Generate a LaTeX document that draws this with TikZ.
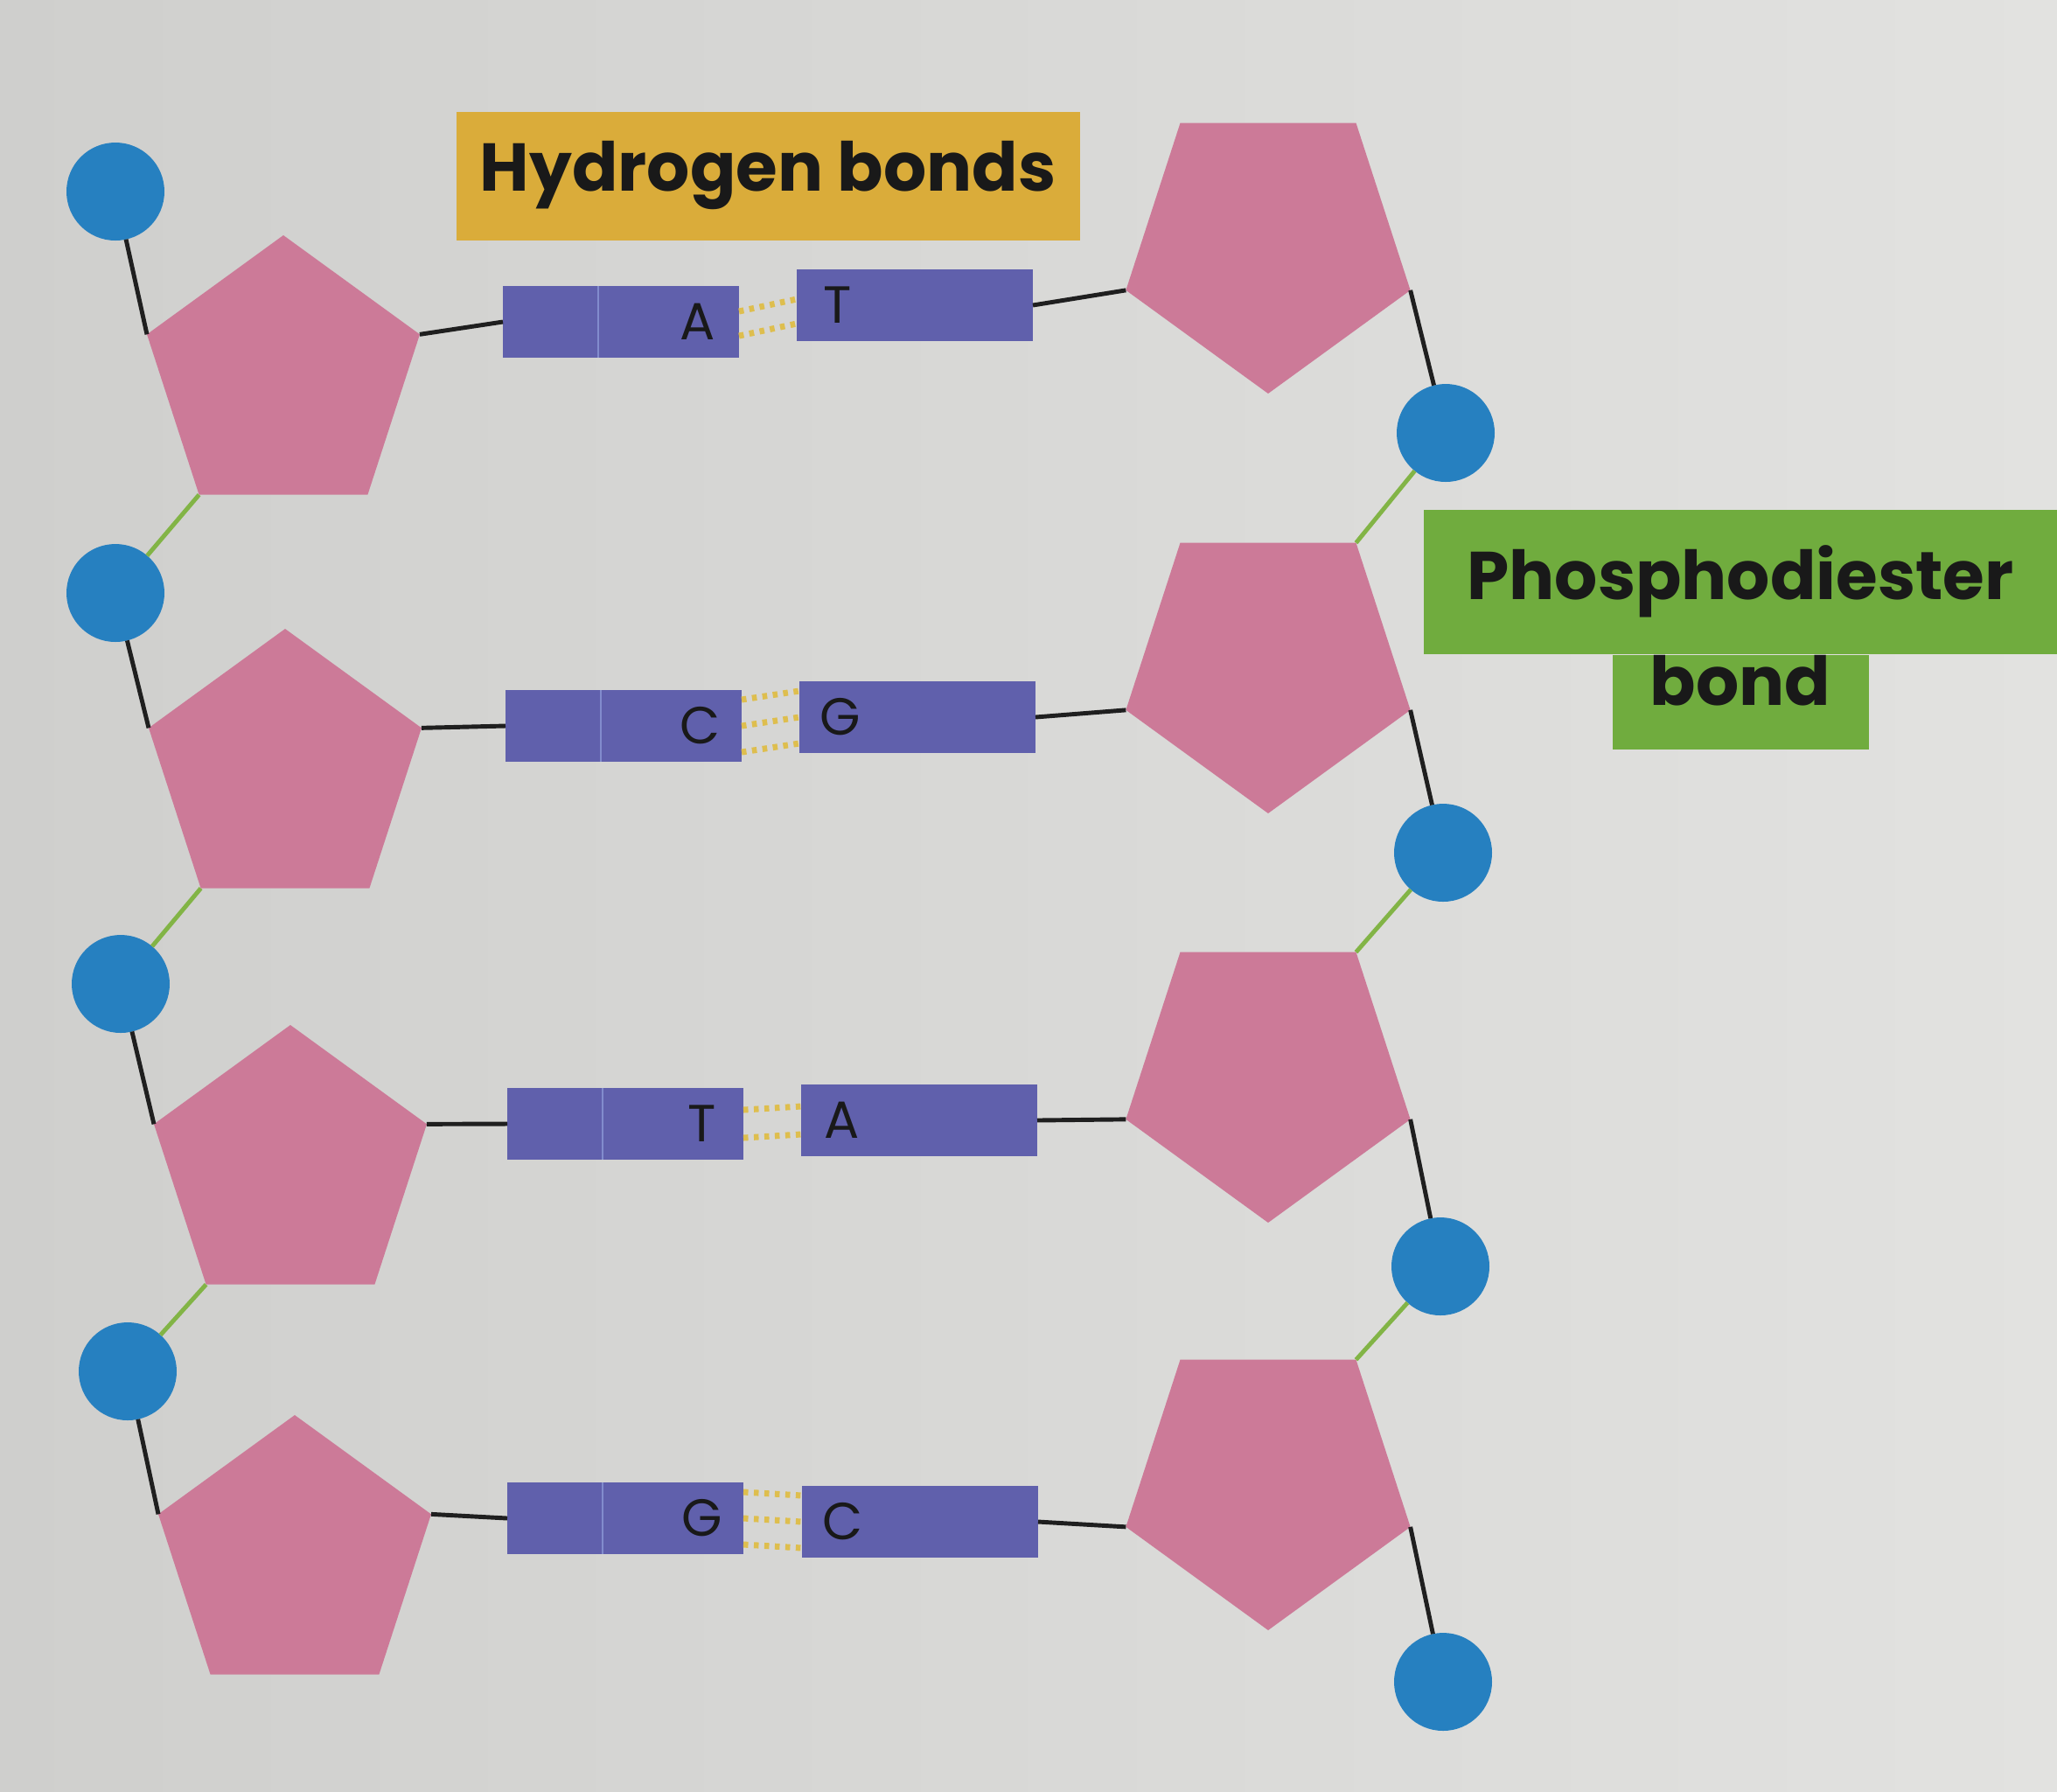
\documentclass[tikz,border=0pt]{standalone}
\usepackage{fontspec}
\newfontfamily\poppins{Poppins}
\usetikzlibrary{shapes.geometric}

\definecolor{paperL}{RGB}{207,207,205}
\definecolor{paperR}{RGB}{226,226,224}
\definecolor{phosblue}{RGB}{38,128,192}
\definecolor{sugarpink}{RGB}{204,122,152}
\definecolor{basepurple}{RGB}{96,96,172}
\definecolor{seplight}{RGB}{130,140,205}
\definecolor{hydyellow}{RGB}{218,172,58}
\definecolor{dotyellow}{RGB}{222,190,78}
\definecolor{labgreen}{RGB}{112,172,62}
\definecolor{estergreen}{RGB}{130,180,70}

\tikzset{
	phosphate/.style={circle,fill=phosblue,minimum size=1.12cm,inner sep=0pt,outer sep=0pt},
	sugarL/.style={regular polygon,regular polygon sides=5,fill=sugarpink,minimum size=3.28cm,inner sep=0pt,outer sep=0pt},
	sugarR/.style={sugarL,minimum size=3.42cm,shape border rotate=180},
	basebox/.style={rectangle,fill=basepurple,minimum width=2.7cm,minimum height=0.82cm,inner sep=0pt,outer sep=0pt},
	baseletter/.style={font=\poppins\fontsize{17}{17}\selectfont,text=black!90,inner sep=0pt},
	labeltext/.style={font=\poppins\bfseries\fontsize{22}{26}\selectfont,text=black!90,inner sep=0pt},
	bond/.style={line width=1.4pt,black!88},
	ester/.style={line width=1.4pt,estergreen},
	hbond/.style={line width=0.7mm,dotyellow,dash pattern=on 0.55mm off 0.65mm},
	sepline/.style={line width=0.5pt,seplight}
}

\begin{document}
\begin{tikzpicture}
	%    \draw[step=1cm,gray,very thin] (0,0) grid (23.52,-20.48);
	\shade[left color=paperL,right color=paperR] (0,0) rectangle (23.52,-20.48);
	
	% left strand
	\node[phosphate] (pl1) at (1.32,-2.19) {};
	\node[sugarL] (sl1) at (3.24,-4.33) {};
	\node[phosphate] (pl2) at (1.32,-6.78) {};
	\node[sugarL] (sl2) at (3.26,-8.83) {};
	\node[phosphate] (pl3) at (1.38,-11.25) {};
	\node[sugarL] (sl3) at (3.32,-13.36) {};
	\node[phosphate] (pl4) at (1.46,-15.68) {};
	\node[sugarL] (sl4) at (3.37,-17.82) {};
	
	% right strand
	\node[sugarR] (sr1) at (14.50,-2.79) {};
	\node[phosphate] (pr1) at (16.53,-4.95) {};
	\node[sugarR] (sr2) at (14.50,-7.59) {};
	\node[phosphate] (pr2) at (16.50,-9.75) {};
	\node[sugarR] (sr3) at (14.50,-12.27) {};
	\node[phosphate] (pr3) at (16.47,-14.48) {};
	\node[sugarR] (sr4) at (14.50,-16.93) {};
	\node[phosphate] (pr4) at (16.50,-19.23) {};
	
	% bases
	\node[basebox] (bl1) at (7.10,-3.68) {};
	\node[basebox] (br1) at (10.46,-3.49) {};
	\node[basebox] (bl2) at (7.13,-8.30) {};
	\node[basebox] (br2) at (10.49,-8.20) {};
	\node[basebox] (bl3) at (7.15,-12.85) {};
	\node[basebox] (br3) at (10.51,-12.81) {};
	\node[basebox] (bl4) at (7.15,-17.36) {};
	\node[basebox] (br4) at (10.52,-17.40) {};
	
	\draw[sepline] ([xshift=1.09cm]bl1.north west) -- ([xshift=1.09cm]bl1.south west);
	\draw[sepline] ([xshift=1.09cm]bl2.north west) -- ([xshift=1.09cm]bl2.south west);
	\draw[sepline] ([xshift=1.09cm]bl3.north west) -- ([xshift=1.09cm]bl3.south west);
	\draw[sepline] ([xshift=1.09cm]bl4.north west) -- ([xshift=1.09cm]bl4.south west);
	
	\node[baseletter] (al1) at ([xshift=-0.47cm]bl1.east) {A};
	\node[baseletter] (ar1) at ([xshift=0.47cm]br1.west) {T};
	\node[baseletter] (al2) at ([xshift=-0.47cm]bl2.east) {C};
	\node[baseletter] (ar2) at ([xshift=0.47cm]br2.west) {G};
	\node[baseletter] (al3) at ([xshift=-0.47cm]bl3.east) {T};
	\node[baseletter] (ar3) at ([xshift=0.47cm]br3.west) {A};
	\node[baseletter] (al4) at ([xshift=-0.47cm]bl4.east) {G};
	\node[baseletter] (ar4) at ([xshift=0.47cm]br4.west) {C};
	
	% hydrogen bonds
	\draw[hbond] ([yshift=0.12cm]bl1.east) -- ([yshift=0.07cm]br1.west);
	\draw[hbond] ([yshift=-0.16cm]bl1.east) -- ([yshift=-0.21cm]br1.west);
	\draw[hbond] ([yshift=0.3cm]bl2.east) -- ([yshift=0.3cm]br2.west);
	\draw[hbond] (bl2.east) -- (br2.west);
	\draw[hbond] ([yshift=-0.3cm]bl2.east) -- ([yshift=-0.3cm]br2.west);
	\draw[hbond] ([yshift=0.16cm]bl3.east) -- ([yshift=0.16cm]br3.west);
	\draw[hbond] ([yshift=-0.16cm]bl3.east) -- ([yshift=-0.16cm]br3.west);
	\draw[hbond] ([yshift=0.3cm]bl4.east) -- ([yshift=0.3cm]br4.west);
	\draw[hbond] (bl4.east) -- (br4.west);
	\draw[hbond] ([yshift=-0.3cm]bl4.east) -- ([yshift=-0.3cm]br4.west);
	
	% backbone, left
	\draw[bond] (pl1) -- (sl1.corner 2);
	\draw[bond] (sl1.corner 5) -- (bl1.west);
	\draw[ester] (sl1.corner 3) -- (pl2);
	\draw[bond] (pl2) -- (sl2.corner 2);
	\draw[bond] (sl2.corner 5) -- (bl2.west);
	\draw[ester] (sl2.corner 3) -- (pl3);
	\draw[bond] (pl3) -- (sl3.corner 2);
	\draw[bond] (sl3.corner 5) -- (bl3.west);
	\draw[ester] (sl3.corner 3) -- (pl4);
	\draw[bond] (pl4) -- (sl4.corner 2);
	\draw[bond] (sl4.corner 5) -- (bl4.west);
	
	% backbone, right
	\draw[bond] (br1.east) -- (sr1.corner 5);
	\draw[bond] (sr1.corner 2) -- (pr1);
	\draw[ester] (pr1) -- (sr2.corner 3);
	\draw[bond] (br2.east) -- (sr2.corner 5);
	\draw[bond] (sr2.corner 2) -- (pr2);
	\draw[ester] (pr2) -- (sr3.corner 3);
	\draw[bond] (br3.east) -- (sr3.corner 5);
	\draw[bond] (sr3.corner 2) -- (pr3);
	\draw[ester] (pr3) -- (sr4.corner 3);
	\draw[bond] (br4.east) -- (sr4.corner 5);
	\draw[bond] (sr4.corner 2) -- (pr4);
	
	% labels
	\node[labeltext,fill=hydyellow,minimum width=7.13cm,minimum height=1.47cm] (hyd) at (8.78,-2.01) {Hydrogen bonds};
	\node[labeltext,fill=labgreen,minimum width=7.24cm,minimum height=1.65cm] (pd) at (19.90,-6.65) {Phosphodiester};
	\node[labeltext,fill=labgreen,minimum width=2.93cm,minimum height=1.08cm,text depth=0.5cm,anchor=north] (pdb) at (pd.south) {bond};
	
\end{tikzpicture}
\end{document}
